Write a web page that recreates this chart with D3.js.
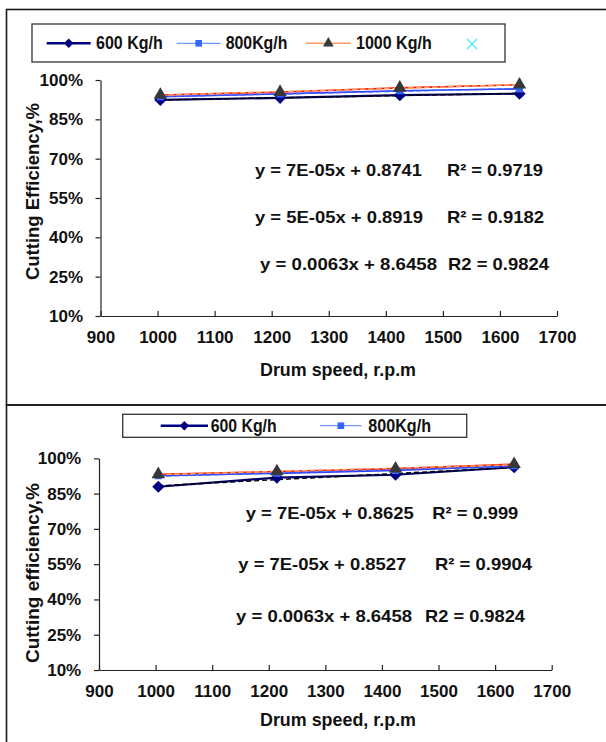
<!DOCTYPE html>
<html>
<head>
<meta charset="utf-8">
<script src="https://cdn.jsdelivr.net/npm/d3@7"></script>
<style>
  body { margin: 0; background: #fff; }
  svg { display: block; font-family: "Liberation Sans", Arial, Helvetica, sans-serif; font-weight: bold; }
</style>
</head>
<body>
<svg id="chart" width="606" height="742"></svg>
<script>
// ---- data ----
const speeds = [1000, 1200, 1400, 1600];
const xTickValues = [900, 1000, 1100, 1200, 1300, 1400, 1500, 1600, 1700];
const yTickValues = [0.10, 0.25, 0.40, 0.55, 0.70, 0.85, 1.00];

const feedLabels = ["600 Kg/h", "800Kg/h", "1000 Kg/h"];

// cutting efficiency, upper chart
const upper600  = [0.924, 0.932, 0.942, 0.948];
const upper800  = [0.936, 0.947, 0.959, 0.966];
const upper1000 = [0.943, 0.954, 0.970, 0.982];

// cutting efficiency, lower chart
const lower600  = [0.879, 0.918, 0.930, 0.962];
const lower800  = [0.926, 0.936, 0.948, 0.968];
const lower1000 = [0.932, 0.944, 0.956, 0.975];

const upperEquations = ["y = 7E-05x + 0.8741", "y = 5E-05x + 0.8919", "y = 0.0063x + 8.6458"];
const upperRSquared  = ["R\u00B2 = 0.9719", "R\u00B2 = 0.9182", "R2 = 0.9824"];
const lowerEquations = ["y = 7E-05x + 0.8625", "y = 7E-05x + 0.8527", "y = 0.0063x + 8.6458"];
const lowerRSquared  = ["R\u00B2 = 0.999", "R\u00B2 = 0.9904", "R2 = 0.9824"];

const xTitle = "Drum speed, r.p.m";
const upperYTitle = "Cutting Efficiency,%";
const lowerYTitle = "Cutting efficiency,%";

// ---- styles ----
const lineStyle = [
  { stroke: "#000066", width: 2.2, trend: "#000000", legend: "#000080", legendWidth: 2.6 },
  { stroke: "#2b3dff", width: 1.6, trend: "#3a5cff", legend: "#6f9bff", legendWidth: 1.3 },
  { stroke: "#ff1a00", width: 1.6, trend: "#ffab73", legend: "#ff9a66", legendWidth: 1.5 }
];

const svg = d3.select("#chart");

function txt(g, str, x, y, size, len, anchor) {
  const t = g.append("text")
    .attr("x", x).attr("y", y)
    .attr("font-size", size)
    .attr("fill", "#111")
    .attr("text-anchor", anchor || "start")
    .text(str);
  if (len) t.attr("textLength", len).attr("lengthAdjust", "spacingAndGlyphs");
  return t;
}

// marker shapes
const diamondPath = (s) => d3.symbol().type(d3.symbolSquare).size(s)();
const squarePath = (s) => d3.symbol().type(d3.symbolSquare).size(s)();
const trianglePath = (s) => d3.symbol().type(d3.symbolTriangle).size(s)();

function drawMarker(g, kind, x, y, big) {
  if (kind === 0) {
    g.append("path").attr("d", diamondPath(big ? 74 : 46))
      .attr("transform", `translate(${x},${y}) rotate(45)`)
      .attr("fill", "#000080");
  } else if (kind === 1) {
    g.append("path").attr("d", squarePath(big ? 50 : 44))
      .attr("transform", `translate(${x},${y})`)
      .attr("fill", "#3366ff");
  } else {
    g.append("path").attr("d", trianglePath(big ? 78 : 50))
      .attr("transform", `translate(${x},${y})`)
      .attr("fill", "#383838");
  }
}

function leastSquares(xs, ys) {
  const mx = d3.mean(xs), my = d3.mean(ys);
  const b = d3.sum(xs, (x, i) => (x - mx) * (ys[i] - my)) / d3.sum(xs, x => (x - mx) * (x - mx));
  return { slope: b, intercept: my - b * mx };
}

function drawPanel(p) {
  const g = svg.append("g");

  const x = d3.scaleLinear().domain([900, 1700]).range([p.left, p.right]);
  // the series are placed on their own scale, which runs a little past the printed axis
  const xs = d3.scaleLinear().domain([900, 1700]).range([p.left, p.left + (p.right - p.left) * p.stretch]);
  const y = d3.scaleLinear().domain([0.10, 1.00]).range([p.bottom, p.top]);

  // y axis
  const ya = g.append("g")
    .attr("transform", `translate(${p.left},0)`)
    .call(d3.axisLeft(y).tickValues(yTickValues).tickFormat(d3.format(".0%"))
      .tickSizeInner(5).tickSizeOuter(0).tickPadding(p.yPad));
  ya.selectAll("text").attr("font-size", 17).attr("font-family", null).attr("fill", "#111");
  ya.selectAll("line, path").attr("stroke", "#222").attr("stroke-width", 1.2);

  // x axis
  const xa = g.append("g")
    .attr("transform", `translate(0,${p.bottom})`)
    .call(d3.axisBottom(x).tickValues(xTickValues).tickFormat(d3.format("d"))
      .tickSizeInner(-5).tickSizeOuter(0).tickPadding(14.5));
  xa.selectAll("text").attr("font-size", 17).attr("font-family", null).attr("fill", "#111");
  xa.selectAll("line, path").attr("stroke", "#222").attr("stroke-width", 1.2);

  // titles
  txt(g, xTitle, p.xTitleX, p.xTitleY, 18, p.xTitleLen, "middle");
  txt(g, p.yTitle, 0, 0, 18, p.yTitleLen, "middle")
    .attr("transform", `translate(${p.yTitleX},${p.yTitleY}) rotate(-90)`);

  // series lines, trendlines and markers
  const line = d3.line().x((d, i) => xs(speeds[i])).y(d => y(d));
  p.series.forEach((vals, k) => {
    const st = lineStyle[k];
    g.append("path").datum(vals).attr("d", line)
      .attr("fill", "none").attr("stroke", st.stroke).attr("stroke-width", st.width);
  });
  p.series.forEach((vals, k) => {
    const st = lineStyle[k];
    const fit = leastSquares(speeds, vals);
    const ends = [speeds[0], speeds[speeds.length - 1]];
    g.append("line")
      .attr("x1", xs(ends[0])).attr("y1", y(fit.intercept + fit.slope * ends[0]))
      .attr("x2", xs(ends[1])).attr("y2", y(fit.intercept + fit.slope * ends[1]))
      .attr("stroke", st.trend).attr("stroke-width", 1.4).attr("stroke-dasharray", "5,3");
  });
  p.series.forEach((vals, k) => {
    vals.forEach((v, i) => drawMarker(g, k, xs(speeds[i]), y(v), true));
  });

  // legend
  const L = p.legend;
  g.append("rect").attr("x", L.box[0]).attr("y", L.box[1])
    .attr("width", L.box[2] - L.box[0]).attr("height", L.box[3] - L.box[1])
    .attr("fill", "#fff").attr("stroke", "#333").attr("stroke-width", 1.3);
  L.items.forEach((it, k) => {
    const st = lineStyle[k];
    g.append("line").attr("x1", it.x0).attr("x2", it.x1).attr("y1", L.lineY).attr("y2", L.lineY)
      .attr("stroke", st.legend).attr("stroke-width", st.legendWidth);
    drawMarker(g, k, (it.x0 + it.x1) / 2, L.lineY, false);
    txt(g, feedLabels[k], it.tx, L.textY, 18, it.tlen);
  });
  if (L.cross) {
    const c = L.cross, r = 5;
    g.append("path")
      .attr("d", `M${c[0] - r},${c[1] - r}L${c[0] + r},${c[1] + r}M${c[0] - r},${c[1] + r}L${c[0] + r},${c[1] - r}`)
      .attr("stroke", "#4fe8ff").attr("stroke-width", 1.4).attr("fill", "none");
  }

  // regression notes
  p.notes.forEach((n, i) => {
    txt(g, p.equations[i], n.ex, n.base, 17, n.elen);
    txt(g, p.rsq[i], n.rx, n.base, 17, n.rlen);
  });
}

// panel frames
svg.append("rect").attr("x", 6.5).attr("y", 9.5).attr("width", 620).attr("height", 395.5)
  .attr("fill", "none").attr("stroke", "#1a1a1a").attr("stroke-width", 1.6);
svg.append("rect").attr("x", 6.5).attr("y", 405).attr("width", 620).attr("height", 360)
  .attr("fill", "none").attr("stroke", "#1a1a1a").attr("stroke-width", 1.6);

drawPanel({
  left: 100.5, right: 557, top: 80, bottom: 316, stretch: 1.049, yPad: 12.5,
  series: [upper600, upper800, upper1000],
  xTitleX: 338, xTitleY: 376, xTitleLen: 156,
  yTitle: upperYTitle, yTitleX: 38.5, yTitleY: 191.5, yTitleLen: 177,
  legend: {
    box: [32, 24, 505, 62], lineY: 43.3, textY: 49.3,
    items: [
      { x0: 46.7, x1: 90.7, tx: 96, tlen: 66.7 },
      { x0: 176.7, x1: 220.7, tx: 225.7, tlen: 61.7 },
      { x0: 306, x1: 350.7, tx: 356, tlen: 75.7 }
    ],
    cross: [472, 44]
  },
  equations: upperEquations, rsq: upperRSquared,
  notes: [
    { ex: 255, elen: 167, rx: 447, rlen: 96, base: 175.5 },
    { ex: 255, elen: 168, rx: 447, rlen: 97, base: 222.5 },
    { ex: 260, elen: 177, rx: 448, rlen: 101, base: 270 }
  ]
});

drawPanel({
  left: 99, right: 551.7, top: 458.3, bottom: 670, stretch: 1.048, yPad: 12.8,
  series: [lower600, lower800, lower1000],
  xTitleX: 338, xTitleY: 726, xTitleLen: 156,
  yTitle: lowerYTitle, yTitleX: 38.5, yTitleY: 573, yTitleLen: 180,
  legend: {
    box: [122.7, 414.3, 466.7, 437.3], lineY: 425.7, textY: 431.7,
    items: [
      { x0: 160.7, x1: 208, tx: 210.7, tlen: 66 },
      { x0: 320, x1: 361.7, tx: 368.3, tlen: 62.7 }
    ]
  },
  equations: lowerEquations, rsq: lowerRSquared,
  notes: [
    { ex: 245.7, elen: 168, rx: 432.3, rlen: 86, base: 519.3 },
    { ex: 238.3, elen: 168, rx: 435, rlen: 97, base: 570 },
    { ex: 236, elen: 176, rx: 425, rlen: 100, base: 621.7 }
  ]
});
</script>
</body>
</html>
